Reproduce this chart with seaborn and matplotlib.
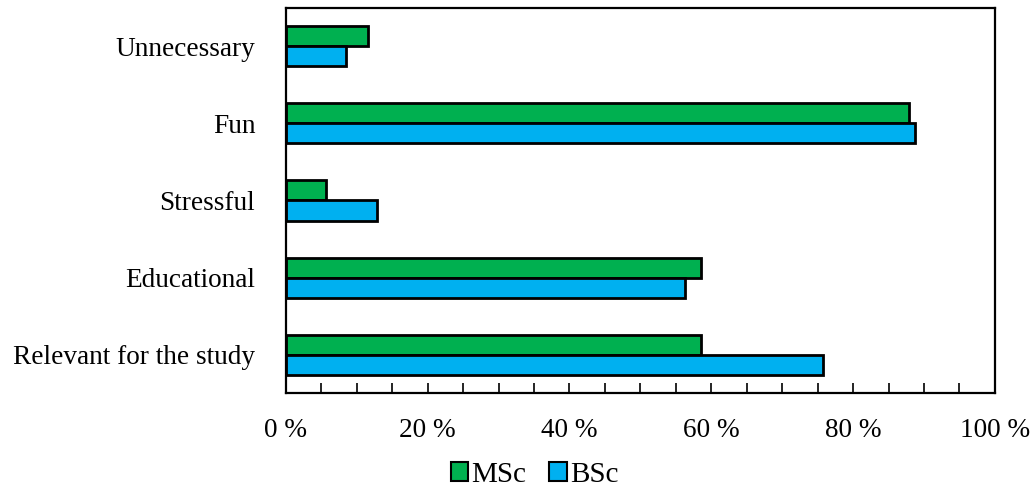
import matplotlib
matplotlib.use("Agg")
import matplotlib.pyplot as plt
from matplotlib.ticker import MultipleLocator, FuncFormatter
from matplotlib.patches import Patch
import seaborn as sns
import pandas as pd

categories = ["Unnecessary", "Fun", "Stressful", "Educational", "Relevant for the study"]
groups = ["MSc", "BSc"]
msc_values = [11.6, 87.9, 5.7, 58.6, 58.6]
bsc_values = [8.5, 88.7, 12.8, 56.3, 75.8]
x_ticks = [0, 20, 40, 60, 80, 100]

colors = {"MSc": "#00B050", "BSc": "#00B0F0"}

df = pd.DataFrame({
    "category": categories * 2,
    "group": ["MSc"] * len(categories) + ["BSc"] * len(categories),
    "value": msc_values + bsc_values,
})

sns.set_theme(style="white")
plt.rcParams["font.family"] = ["Liberation Serif", "DejaVu Serif"]
plt.rcParams["text.color"] = "black"
plt.rcParams["xtick.color"] = "black"
plt.rcParams["ytick.color"] = "black"

fig = plt.figure(figsize=(10.32, 4.92), dpi=100)
ax = fig.add_axes([0.277, 0.201, 0.687, 0.783])

sns.barplot(data=df, x="value", y="category", hue="group", order=categories,
            hue_order=groups, palette=colors, saturation=1, edgecolor="black",
            linewidth=2, width=0.52, orient="h", ax=ax, legend=False)

ax.set_xlim(0, 100)
ax.set_ylim(len(categories) - 0.5, -0.5)
ax.set_xticks(x_ticks)
ax.xaxis.set_minor_locator(MultipleLocator(5))
ax.xaxis.set_major_formatter(FuncFormatter(lambda v, p: f"{int(v)} %"))
ax.tick_params(axis="x", which="both", direction="in", length=7, width=1.2,
               color="black", bottom=True, labelsize=19.6, pad=18, labelcolor="black")
ax.tick_params(axis="y", which="both", length=0, labelsize=19.6, pad=22, labelcolor="black")
for s in ax.spines.values():
    s.set_color("black")
    s.set_linewidth(1.6)
ax.set_xlabel("")
ax.set_ylabel("")
ax.grid(False)

handles = [Patch(facecolor=colors[g], edgecolor="black", linewidth=1.5, label=g) for g in groups]
fig.legend(handles=handles, loc="lower center", bbox_to_anchor=(0.518, -0.045), ncol=2,
           frameon=False, fontsize=21, handlelength=0.6, handleheight=0.6,
           handletextpad=0.1, columnspacing=0.8)

fig.savefig("out.png", dpi=100)
